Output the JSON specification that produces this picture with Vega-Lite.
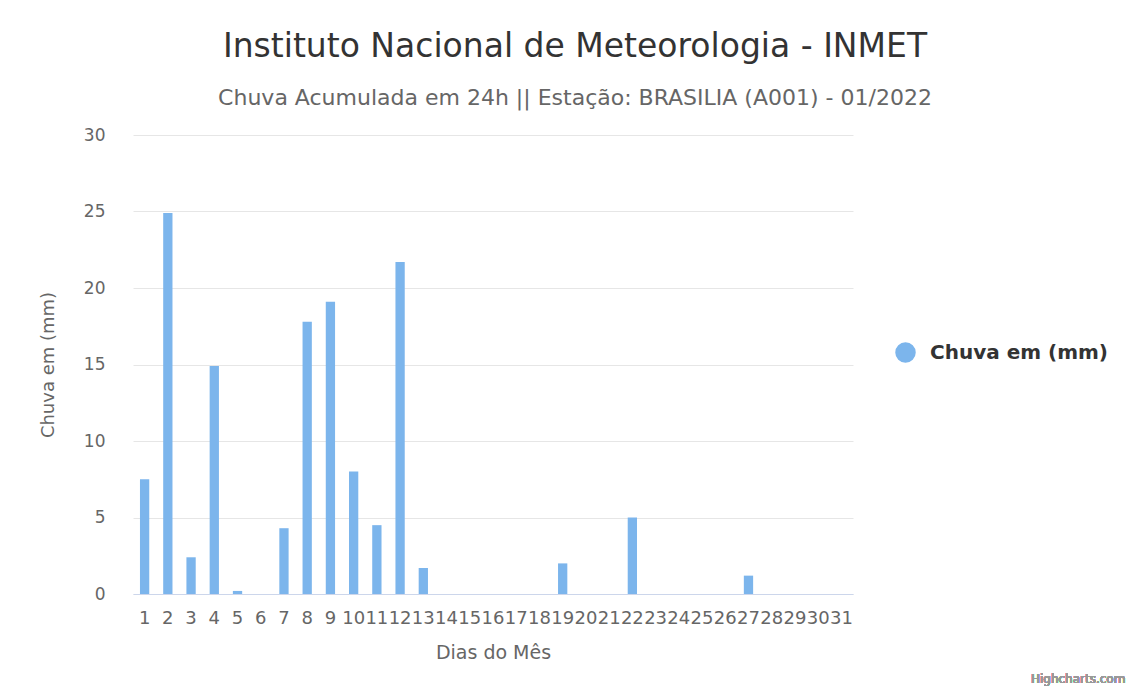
{
  "$schema": "https://vega.github.io/schema/vega-lite/v6.json",
  "width": 720,
  "height": 459,
  "autosize": {"type": "none"},
  "padding": {"left": 133, "top": 135, "right": 279, "bottom": 95},
  "background": "#ffffff",
  "config": {
    "font": "DejaVu Sans",
    "view": {"stroke": null}
  },
  "title": {
    "text": "Instituto Nacional de Meteorologia - INMET",
    "subtitle": "Chuva Acumulada em 24h || Estação: BRASILIA (A001) - 01/2022",
    "anchor": "middle",
    "dx": 82,
    "fontSize": 33,
    "fontWeight": "normal",
    "color": "#333333",
    "subtitleFontSize": 22,
    "subtitleColor": "#666666",
    "subtitlePadding": 24,
    "offset": 17
  },
  "data": {
    "values": [
      {"dia": 1, "chuva": 7.5}, {"dia": 2, "chuva": 24.9}, {"dia": 3, "chuva": 2.4},
      {"dia": 4, "chuva": 14.9}, {"dia": 5, "chuva": 0.2}, {"dia": 6, "chuva": 0},
      {"dia": 7, "chuva": 4.3}, {"dia": 8, "chuva": 17.8}, {"dia": 9, "chuva": 19.1},
      {"dia": 10, "chuva": 8.0}, {"dia": 11, "chuva": 4.5}, {"dia": 12, "chuva": 21.7},
      {"dia": 13, "chuva": 1.7}, {"dia": 14, "chuva": 0}, {"dia": 15, "chuva": 0},
      {"dia": 16, "chuva": 0}, {"dia": 17, "chuva": 0}, {"dia": 18, "chuva": 0},
      {"dia": 19, "chuva": 2.0}, {"dia": 20, "chuva": 0}, {"dia": 21, "chuva": 0},
      {"dia": 22, "chuva": 5.0}, {"dia": 23, "chuva": 0}, {"dia": 24, "chuva": 0},
      {"dia": 25, "chuva": 0}, {"dia": 26, "chuva": 0}, {"dia": 27, "chuva": 1.2},
      {"dia": 28, "chuva": 0}, {"dia": 29, "chuva": 0}, {"dia": 30, "chuva": 0},
      {"dia": 31, "chuva": 0}
    ]
  },
  "layer": [
    {
      "mark": {"type": "bar"},
      "encoding": {
        "x": {
          "field": "dia",
          "type": "ordinal",
          "scale": {"paddingInner": 0.6, "paddingOuter": 0.3},
          "axis": {
            "title": "Dias do Mês",
            "titleFontSize": 19,
            "titleFontWeight": "normal",
            "titleColor": "#666666",
            "titlePadding": 16,
            "labelAngle": 0,
            "labelFontSize": 18,
            "labelColor": "#666666",
            "labelOverlap": false,
            "labelPadding": 15,
            "ticks": false,
            "domainColor": "#ccd6eb",
            "grid": false
          }
        },
        "y": {
          "field": "chuva",
          "type": "quantitative",
          "scale": {"domain": [0, 30], "nice": false},
          "axis": {
            "title": "Chuva em (mm)",
            "titleFontSize": 18,
            "titleFontWeight": "normal",
            "titleColor": "#666666",
            "titlePadding": 26,
            "values": [0, 5, 10, 15, 20, 25, 30],
            "labelFontSize": 17,
            "labelColor": "#666666",
            "labelPadding": 28,
            "ticks": false,
            "domain": false,
            "gridColor": "#e6e6e6"
          }
        },
        "color": {
          "datum": "Chuva em (mm)",
          "type": "nominal",
          "scale": {"range": ["#7cb5ec"]},
          "legend": {
            "title": null,
            "orient": "none",
            "legendX": 762,
            "legendY": 207,
            "symbolType": "circle",
            "symbolSize": 420,
            "symbolStrokeWidth": 0,
            "labelFontSize": 20,
            "labelFontWeight": "bold",
            "labelColor": "#333333",
            "labelOffset": 14,
            "labelLimit": 400
          }
        }
      }
    },
    {
      "mark": {"type": "text", "align": "right", "baseline": "bottom", "dx": 284, "dy": 92, "fontSize": 12, "color": "#999999"},
      "encoding": {
        "x": {"datum": 31, "type": "ordinal"},
        "y": {"datum": 0, "type": "quantitative"},
        "text": {"value": "Highcharts.com"}
      }
    }
  ]
}
